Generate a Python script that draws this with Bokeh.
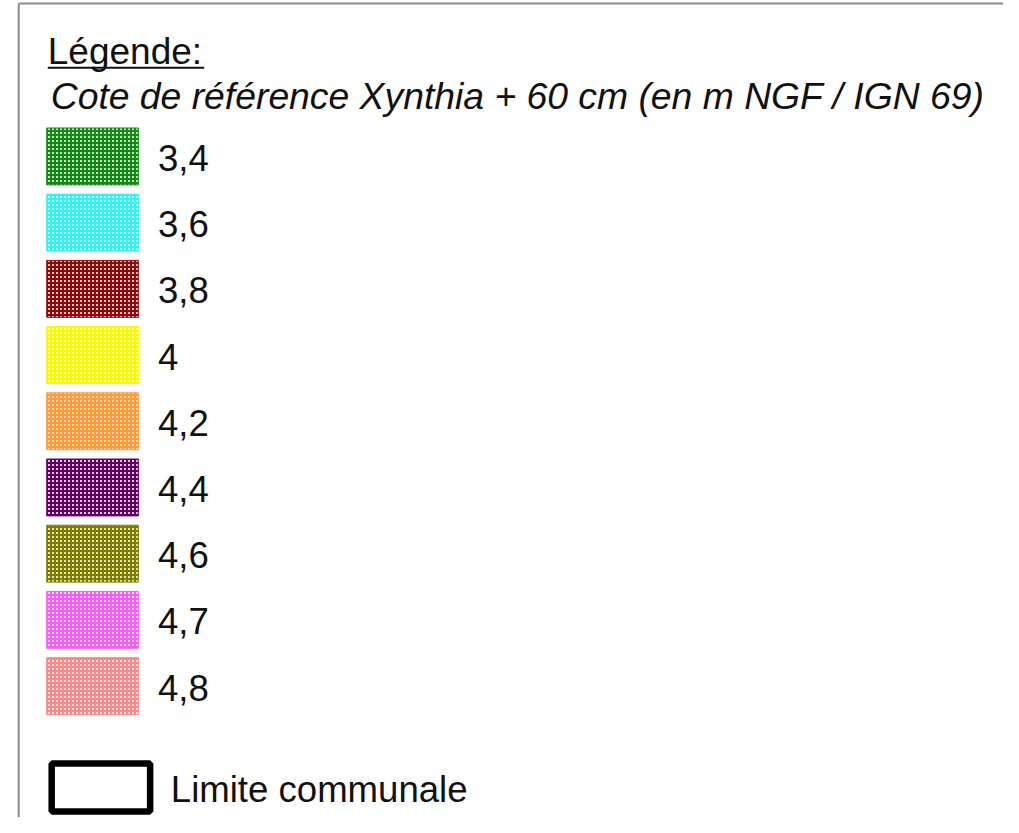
import numpy as np
from bokeh.plotting import figure
from bokeh.models import ColumnDataSource, Range1d
from bokeh.core.properties import value
from bokeh.embed import file_html
from bokeh.resources import INLINE

# ---- data ----
cotes = [3.4, 3.6, 3.8, 4.0, 4.2, 4.4, 4.6, 4.7, 4.8]
labels = ["3,4", "3,6", "3,8", "4", "4,2", "4,4", "4,6", "4,7", "4,8"]
colors = ["#128a12", "#30f2f2", "#8e0a0a", "#f8f800", "#ff9a3c",
          "#640064", "#7c7c00", "#f45ef4", "#f58a8a"]
tints = ["#c4e6c4", "#c8ffff", "#e6c4c4", "#ffffb0", "#ffd8b0",
         "#e2c6e2", "#e4e4b8", "#ffd0ff", "#ffd8d8"]
title = "Légende:"
subtitle = "Cote de référence Xynthia + 60 cm (en m NGF / IGN 69)"
limit_label = "Limite communale"

# ---- figure: data coordinates follow the reference image's pixels ----
W, H = 1003, 817
p = figure(width=W, height=H, x_range=Range1d(0, 1019), y_range=Range1d(833, 0),
           output_backend="svg", toolbar_location=None, min_border=0,
           x_axis_location=None, y_axis_location=None)
p.grid.visible = False
p.outline_line_color = None
p.background_fill_color = "white"
p.border_fill_color = "white"

FONT = value("Liberation Sans")
FS = "36.6px"
DY = 13.4  # correction of rendered alphabetic baseline

# frame lines (left and top)
p.line(x=[18.5, 18.5], y=[3, 840], line_color="#8a8a8a", line_width=2)
p.line(x=[18.5, 1025], y=[3, 3], line_color="#8a8a8a", line_width=2)

# title + underline
p.text(x=[48], y=[65 - DY], text=[title], text_font=FONT, text_font_size="37px",
       text_baseline="alphabetic", text_color="#111111")
p.line(x=[48, 207], y=[68.5, 68.5], line_color="#111111", line_width=2)
p.text(x=[51], y=[111 - DY], text=[subtitle], text_font=FONT, text_font_size="37.3px",
       text_font_style="italic", text_baseline="alphabetic", text_color="#111111")

# swatches
n = len(cotes)
idx = np.arange(n)
tops = 130 + idx * 67.5
src = ColumnDataSource(dict(top=tops, bottom=tops + 58, color=colors, tint=tints,
                            label=labels, cy=tops + 29 + 15 - DY))
p.quad(left=47, right=140, top="top", bottom="bottom", source=src,
       fill_color="tint", line_color="color", line_width=1,
       hatch_pattern="+", hatch_color="color", hatch_scale=4, hatch_weight=2)
p.text(x=160, y="cy", text="label", source=src, text_font=FONT,
       text_font_size=FS, text_baseline="alphabetic", text_color="#111111")

# limite communale
p.quad(left=[52], right=[152], top=[778], bottom=[827], fill_color="white",
       line_color="black", line_width=6.5)
p.text(x=[173], y=[818 - DY], text=[limit_label], text_font=FONT, text_font_size=FS,
       text_baseline="alphabetic", text_color="#111111")

open("out.html", "w").write(file_html(p, INLINE))
